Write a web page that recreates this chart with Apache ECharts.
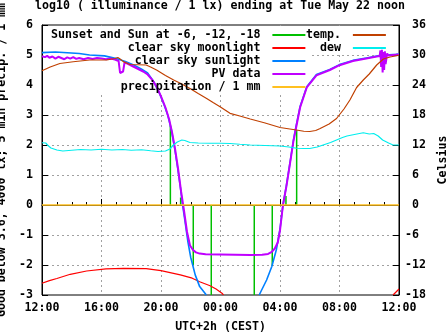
<!DOCTYPE html>
<html>
<head>
<meta charset="utf-8">
<script src="https://cdn.jsdelivr.net/npm/echarts@6/dist/echarts.min.js"></script>
<style>html,body{margin:0;padding:0;background:#fff}#c{width:447px;height:335px}</style>
</head>
<body>
<div id="c"></div>
<script>
// hours since 12:00 (Mon) -> 24 = 12:00 Tue
const xTickHours = [0, 4, 8, 12, 16, 20, 24];

// Sun at 0, -6, -12, -18 degrees (impulses)
const sunHours   = [8.63, 9.32, 10.17, 11.38, 14.27, 15.48, 16.4, 17.12];
const sunHeights = [2.65, 0.25, -2.0, -3.0, -3.0, -2.03, 0.3, 2.5];

// clear sky moonlight (log10 lx)
const moonHours  = [0, 0.5, 1, 1.9, 3, 4.3, 5.5, 7, 8, 9.3, 10.1, 10.6, 11.3, 11.7, 12.1, 12.2, 12.25, 23.6, 24];
const moonValues = [-2.61, -2.52, -2.45, -2.31, -2.2, -2.13, -2.11, -2.12, -2.19, -2.33, -2.44, -2.56, -2.69, -2.8, -2.94, -3.0, null, -3.0, -2.8];

// clear sky sunlight (log10 lx)
const sunlightHours  = [0, 0.9, 1.0, 2.5, 3.2, 4.2, 5.0, 5.6, 6.2, 6.7, 7.1, 7.5, 7.9, 8.2, 8.45, 8.7, 8.9, 9.1, 9.3, 9.45, 9.6, 9.8, 10.0, 10.3, 10.6, 11.05, 11.1,
                        14.6, 15.1, 15.45, 15.75, 16.0, 16.2, 16.43, 16.67, 16.9, 17.05, 17.35, 17.8, 18.45, 19.35, 20.0, 20.9, 21.8, 22.7, 23.8, 24];
const sunlightValues = [5.08, 5.1, 5.06, 5.05, 5.0, 4.97, 4.88, 4.78, 4.66, 4.53, 4.4, 4.12, 3.72, 3.35, 3.0, 2.5, 1.95, 1.3, 0.6, 0.0, -0.5, -1.2, -1.75, -2.33, -2.72, -3.0, null,
                        -3.0, -2.5, -2.05, -1.5, -0.8, 0.0, 0.65, 1.4, 2.15, 2.55, 3.28, 3.94, 4.35, 4.52, 4.68, 4.82, 4.9, 4.98, 5.02, 5.03];

// PV data (log10 lx)
const pvHours  = [0, 0.2, 0.35, 0.5, 0.7, 0.9, 1.1, 1.3, 1.5, 1.7, 1.9, 2.1, 2.3, 2.5, 2.8, 3.1, 3.4, 3.7, 4.0, 4.3, 4.6, 4.9,
                  5.15, 5.25, 5.35, 5.45, 5.55, 5.7, 6.0, 6.4, 6.8, 7.1, 7.4, 7.7, 8.0, 8.3, 8.55, 8.75, 8.95, 9.15, 9.35, 9.55, 9.75, 9.95,
                  10.15, 10.35, 10.6, 11.0, 12.0, 13.0, 14.0, 14.8, 15.2, 15.45, 15.65, 15.85, 16.0, 16.2, 16.43, 16.67, 16.9, 17.05,
                  17.35, 17.8, 18.45, 19.35, 20.0, 20.9, 21.8, 22.5, 22.7, 22.75, 22.8, 22.85, 22.9, 22.95, 23.0, 23.05, 23.1, 23.2, 23.3, 23.6, 24];
const pvValues = [4.96, 4.93, 4.97, 4.91, 4.95, 4.88, 4.94, 4.9, 4.86, 4.92, 4.88, 4.93, 4.87, 4.9, 4.86, 4.9, 4.87, 4.9, 4.88, 4.86, 4.88, 4.85,
                  4.8, 4.4, 4.36, 4.45, 4.75, 4.72, 4.65, 4.55, 4.45, 4.35, 4.18, 3.95, 3.62, 3.25, 2.85, 2.4, 1.85, 1.2, 0.45, -0.2, -0.9, -1.35,
                  -1.5, -1.58, -1.62, -1.64, -1.65, -1.66, -1.67, -1.66, -1.63, -1.56, -1.45, -1.25, -0.85, 0.0, 0.62, 1.38, 2.12, 2.5,
                  3.25, 3.92, 4.32, 4.5, 4.66, 4.8, 4.88, 4.95, 4.97, 5.15, 4.6, 5.17, 4.42, 5.1, 4.5, 5.12, 4.7, 5.05, 4.98, 5.0, 5.02];

// precipitation / 1 mm
const precipHours  = [0, 4, 8, 12, 16, 20, 24];
const precipValues = [0, 0, 0, 0, 0, 0, 0];

// temperature (Celsius)
const tempHours  = [0, 0.55, 1.2, 2.1, 3.2, 4.35, 4.9, 5.1, 5.25, 5.47, 5.92, 7.0, 7.3, 7.7, 8.3, 8.85, 9.4, 9.95, 10.5, 11.07, 11.5, 11.97,
                    12.64, 13.3, 14.0, 15.0, 16.0, 17.1, 17.6, 18.0, 18.4, 18.7, 19.3, 19.8, 20.3, 20.7, 21.15, 21.6, 22.0, 22.5, 22.95, 23.4, 23.85, 24];
const tempValues = [26.85, 27.6, 28.3, 28.65, 29.0, 29.0, 29.3, 29.5, 29.2, 28.67, 28.1, 28.0, 27.6, 27.0, 25.9, 25.0, 24.2, 23.3, 22.3, 21.3, 20.5, 19.67,
                    18.33, 17.8, 17.2, 16.4, 15.5, 15.0, 14.75, 14.7, 14.9, 15.3, 16.2, 17.3, 19.2, 21.0, 23.5, 25.0, 26.2, 28.0, 29.2, 29.6, 29.85, 30.0];

// dew point (Celsius)
const dewHours  = [0, 0.25, 0.4, 0.6, 1.0, 1.4, 2.0, 2.6, 3.3, 4.0, 4.7, 5.4, 6.0, 6.7, 7.3, 7.8, 8.3, 8.6, 8.83, 9.1, 9.4, 9.6, 9.95, 10.5, 11.3,
                   12.0, 12.64, 13.3, 14.0, 15.0, 16.0, 16.6, 17.12, 17.6, 18.0, 18.5, 18.9, 19.4, 19.8, 20.2, 20.5, 21.0, 21.6, 22.0, 22.3, 22.6, 22.9, 23.3, 23.6, 24];
const dewValues = [12.45, 12.4, 11.9, 11.4, 11.0, 10.8, 10.95, 11.1, 11.0, 11.15, 11.0, 11.1, 10.95, 11.05, 10.85, 10.7, 10.8, 11.2, 12.0, 12.6, 13.0, 12.9, 12.5, 12.4, 12.35,
                   12.35, 12.3, 12.15, 12.0, 11.9, 11.8, 11.6, 11.35, 11.3, 11.3, 11.6, 12.0, 12.5, 13.0, 13.5, 13.8, 14.1, 14.45, 14.2, 14.3, 13.8, 13.0, 12.4, 12.0, 12.0];

const FONT = 'DejaVu Sans Mono';
const FS = 11.6;

function zip(xs, ys) { return xs.map((x, i) => [x, ys[i]]); }
function impulses(xs, ys) {
  const out = [];
  xs.forEach((x, i) => { out.push([x, 0], [x, ys[i]], [x, null]); });
  return out;
}
function lineSeries(name, data, color, width, yAxisIndex) {
  return {
    name, type: 'line', data, yAxisIndex: yAxisIndex || 0,
    showSymbol: false, symbol: 'none', connectNulls: false, animation: false,
    lineStyle: { color, width }, itemStyle: { color }
  };
}

const chart = echarts.init(document.getElementById('c'), null, { renderer: 'canvas' });
const txt = { fontFamily: FONT, fontSize: FS, fontWeight: 'bold', color: '#000' };
const lineIcon = 'path://M0,0H33V2H0Z';
const dash = { color: '#a0a0a0', width: 1, type: [2, 3] };

chart.setOption({
  animation: false,
  backgroundColor: '#fff',
  title: {
    text: 'log10 ( illuminance / 1 lx) ending at Tue May 22 noon',
    left: 35, top: 0, padding: 0,
    textStyle: Object.assign({}, txt)
  },
  grid: { left: 42, right: 48, top: 25, bottom: 40, show: true, borderColor: '#000', borderWidth: 1,
          backgroundColor: 'transparent', containLabel: false, outerBoundsMode: 'none' },
  graphic: [
    { type: 'rect', z: 1, shape: { x: 43, y: 26, width: 269, height: 66 }, style: { fill: '#fff' }, silent: true },
    { type: 'rect', z: 1, shape: { x: 312, y: 26, width: 86, height: 27 }, style: { fill: '#fff' }, silent: true }
  ],
  legend: [
    {
      orient: 'vertical', align: 'right', left: 51, top: 28.5, padding: 0, itemGap: 0,
      itemWidth: 33, itemHeight: 13, symbolKeepAspect: true, icon: lineIcon,
      textStyle: Object.assign({ lineHeight: 13 }, txt),
      formatter: n => n + ' ',
      data: ['Sunset and Sun at -6, -12, -18', 'clear sky moonlight', 'clear sky sunlight', 'PV data', 'precipitation / 1 mm']
    },
    {
      orient: 'vertical', align: 'right', left: 306, top: 28.5, padding: 0, itemGap: 0,
      itemWidth: 33, itemHeight: 13, symbolKeepAspect: true, icon: lineIcon,
      textStyle: Object.assign({ lineHeight: 13 }, txt),
      formatter: n => n + ' ',
      data: ['temp.', 'dew']
    }
  ],
  xAxis: {
    type: 'value', min: 0, max: 24, interval: 4,
    name: 'UTC+2h (CEST)', nameLocation: 'middle', nameGap: 26,
    nameTextStyle: Object.assign({}, txt),
    axisLine: { show: true, lineStyle: { color: '#000', width: 1 } },
    axisTick: { show: true, inside: true, length: 6, lineStyle: { color: '#000' } },
    minorTick: { show: true, splitNumber: 4, length: 3, lineStyle: { color: '#000' } },
    axisLabel: Object.assign({ margin: 7, formatter: v => String((12 + v) % 24).padStart(2, '0') + ':00' }, txt),
    splitLine: { show: true, showMinLine: false, showMaxLine: false, lineStyle: dash }
  },
  yAxis: [
    {
      type: 'value', min: -3, max: 6, interval: 1, position: 'left',
      name: 'Good below 3.6, 4000 lx; 5 min precip. / 1 mm', nameLocation: 'middle', nameGap: 25, nameRotate: 90,
      nameTextStyle: Object.assign({}, txt),
      axisLine: { show: true, lineStyle: { color: '#000', width: 1 } },
      axisTick: { show: true, inside: true, length: 6, lineStyle: { color: '#000' } },
      axisLabel: Object.assign({ margin: 9 }, txt),
      splitLine: { show: true, showMinLine: false, showMaxLine: false, lineStyle: dash }
    },
    {
      type: 'value', min: -18, max: 36, interval: 6, position: 'right',
      name: 'Celsius', nameLocation: 'middle', nameGap: 35, nameRotate: 90,
      nameTextStyle: Object.assign({}, txt),
      axisLine: { show: true, lineStyle: { color: '#000', width: 1 } },
      axisTick: { show: true, inside: true, length: 6, lineStyle: { color: '#000' } },
      axisLabel: Object.assign({ margin: 6, formatter: v => (v < 0 ? String(v) : ' ' + v) }, txt),
      splitLine: { show: false }
    }
  ],
  series: [
    lineSeries('Sunset and Sun at -6, -12, -18', impulses(sunHours, sunHeights), '#00c000', 1.5),
    lineSeries('clear sky moonlight', zip(moonHours, moonValues), '#ff0000', 1.2),
    lineSeries('clear sky sunlight', zip(sunlightHours, sunlightValues), '#0080ff', 1.6),
    lineSeries('PV data', zip(pvHours, pvValues), '#c000ff', 2),
    lineSeries('precipitation / 1 mm', zip(precipHours, precipValues), '#ffc020', 1.5),
    lineSeries('temp.', zip(tempHours, tempValues), '#c04000', 1.2, 1),
    lineSeries('dew', zip(dewHours, dewValues), '#00eeee', 1.2, 1)
  ]
});
</script>
</body>
</html>
